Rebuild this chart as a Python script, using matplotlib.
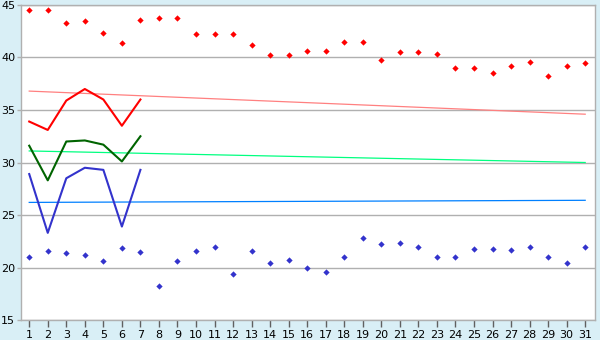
import numpy as np
import matplotlib
matplotlib.use('Agg')
import matplotlib.pyplot as plt

# daily values
days = list(range(1, 32))
high_pts = [44.5, 44.5, 43.3, 43.5, 42.3, 41.4, 43.6, 43.8, 43.8, 42.2,
            42.2, 42.2, 41.2, 40.2, 40.2, 40.6, 40.6, 41.5, 41.5, 39.8,
            40.5, 40.5, 40.3, 39.0, 39.0, 38.5, 39.2, 39.6, 38.2, 39.2, 39.5]
low_pts = [21.0, 21.6, 21.4, 21.2, 20.6, 21.9, 21.5, 18.2, 20.6, 21.6,
           22.0, 19.4, 21.6, 20.4, 20.7, 20.0, 19.6, 21.0, 22.8, 22.2,
           22.3, 22.0, 21.0, 21.0, 21.8, 21.8, 21.7, 22.0, 21.0, 20.4, 22.0]

week_days = [1, 2, 3, 4, 5, 6, 7]
week_red = [33.9, 33.1, 35.9, 37.0, 36.0, 33.5, 36.0]
week_green = [31.6, 28.3, 32.0, 32.1, 31.7, 30.1, 32.5]
week_blue = [28.9, 23.3, 28.5, 29.5, 29.3, 23.9, 29.3]

trend_days = [1, 31]
trend_red = [36.8, 34.6]
trend_green = [31.1, 30.0]
trend_blue = [26.2, 26.4]

y_ticks = [15, 20, 25, 30, 35, 40, 45]

bg = '#d9eff6'
grid_c = '#b0b0b0'

fig = plt.figure(figsize=(6, 3.4), dpi=100, facecolor=bg)
ax = fig.add_axes([0.0345, 0.0588, 0.9575, 0.9265])
ax.set_facecolor('white')

for y in y_ticks:
    ax.axhline(y, color=grid_c, linewidth=1.0, zorder=1)

ax.plot(trend_days, trend_red, color='#ff8080', linewidth=0.9, zorder=2)
ax.plot(trend_days, trend_green, color='#00ff80', linewidth=0.9, zorder=2)
ax.plot(trend_days, trend_blue, color='#0080ff', linewidth=0.9, zorder=2)

ax.plot(week_days, week_red, color='#ff0000', linewidth=1.5, zorder=3)
ax.plot(week_days, week_green, color='#006400', linewidth=1.5, zorder=3)
ax.plot(week_days, week_blue, color='#3333cc', linewidth=1.5, zorder=3)

ax.plot(days, high_pts, linestyle='none', marker='D', markersize=3.2,
        color='#ff0000', markeredgewidth=0, zorder=4)
ax.plot(days, low_pts, linestyle='none', marker='D', markersize=3.2,
        color='#3333cc', markeredgewidth=0, zorder=4)

ax.set_xlim(0.54, 31.54)
ax.set_ylim(15, 45)
ax.set_xticks(days)
ax.set_xticklabels([str(d) for d in days], fontsize=8)
ax.set_yticks(y_ticks)
ax.set_yticklabels([str(y) for y in y_ticks], fontsize=8)
ax.tick_params(axis='x', length=5, width=1, color='#606060', pad=2)
ax.tick_params(axis='y', length=3, width=1, color=grid_c, pad=1)

for side in ['top', 'right', 'left', 'bottom']:
    ax.spines[side].set_color(grid_c)
    ax.spines[side].set_linewidth(1.0)

fig.savefig('out.png', dpi=100, facecolor=bg)
